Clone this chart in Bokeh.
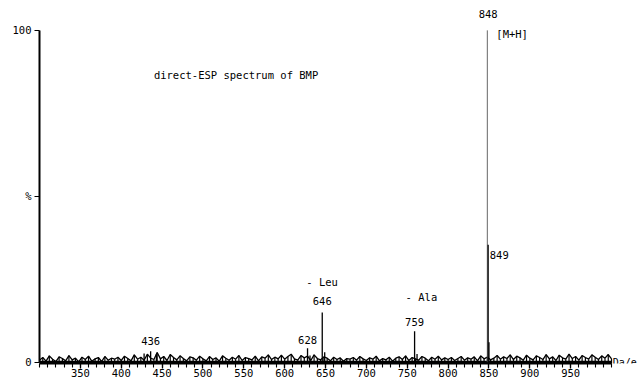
from bokeh.plotting import figure
from bokeh.models import Range1d, FixedTicker, Label, ColumnDataSource
from bokeh.embed import file_html
from bokeh.resources import INLINE

# ---- data ----
peak_mz = [428, 436, 443, 628, 631, 646, 649, 759, 762, 848, 849, 850]
peak_int = [2.6, 3.3, 2.4, 4.2, 2.0, 15.0, 3.0, 9.3, 2.5, 100.0, 35.4, 6.0]

# baseline noise, one value every 4 Da from 300 to 1000
noise_int = [
    0.6, 1.4, 0.3, 1.9, 0.9, 0.2, 1.6, 1.1, 0.4, 2.0, 0.7, 1.2, 0.1, 1.5, 0.8, 1.8, 0.3, 1.0, 1.4, 0.2, 1.7, 0.6, 1.2, 0.9, 1.5,
    0.5, 1.8, 1.1, 0.4, 2.2, 0.9, 1.5, 0.6, 2.4, 1.2, 0.8, 2.9, 1.0, 1.7, 0.5, 2.3, 1.4, 0.7, 1.9, 1.1, 0.4, 1.6, 1.3, 0.6, 1.8,
    1.0, 0.4, 1.7, 0.8, 1.3, 0.3, 1.9, 1.2, 0.6, 1.5, 0.9, 2.0, 0.5, 1.4, 1.1, 0.7, 1.8, 0.4, 1.6, 1.2, 2.2, 0.8, 1.5, 1.0, 2.1,
    0.9, 1.7, 2.4, 1.0, 0.6, 2.0, 1.3, 1.8, 0.5, 2.2, 1.1, 0.7, 1.6, 1.2, 0.4, 1.5, 0.8, 1.3, 0.3, 1.1, 0.9, 1.4, 0.6, 1.7, 1.0,
    0.5, 1.3, 0.9, 1.8, 0.4, 1.1, 0.7, 1.5, 0.3, 1.2, 1.6, 0.8, 1.9, 0.5, 1.4, 1.0, 0.6, 1.7, 1.2, 0.4, 1.5, 0.9, 1.8, 0.7, 1.3,
    0.8, 1.4, 0.5, 1.1, 1.7, 0.6, 1.3, 0.9, 1.6, 0.4, 1.9, 1.0, 1.5, 0.7, 1.2, 2.0, 0.9, 1.6, 1.1, 2.2, 0.8, 1.8, 1.3, 0.6, 2.1,
    1.2, 0.7, 1.9, 1.4, 0.8, 2.3, 1.0, 1.6, 0.5, 2.1, 1.3, 0.9, 2.4, 1.1, 1.7, 0.6, 2.0, 1.4, 0.9, 2.2, 1.5, 0.8, 1.9, 1.2, 2.3, 1.0,
]
noise_mz = [300 + 4 * i for i in range(len(noise_int))]

x_ticks = [350, 400, 450, 500, 550, 600, 650, 700, 750, 800, 850, 900, 950]
x_minor = list(range(300, 1001, 10))
y_ticks = [0, 50, 100]
y_tick_labels = {0: "0", 50: "%", 100: "100"}

FONT = "DejaVu Sans Mono"
FS = "10.5px"

p = figure(width=638, height=379, output_backend="svg", toolbar_location=None,
           x_range=Range1d(300, 1033), y_range=Range1d(-0.4, 109.0),
           min_border_left=39, min_border_right=0, min_border_top=0, min_border_bottom=0)
p.outline_line_color = None
p.xgrid.visible = False
p.ygrid.visible = False
p.background_fill_color = "white"

# baseline noise
nsrc = ColumnDataSource(dict(x=noise_mz, y0=[-0.8] * len(noise_int), y1=noise_int))
p.segment(x0="x", y0="y0", x1="x", y1="y1", line_color="black", line_width=1.2, source=nsrc)
p.line(noise_mz, noise_int, line_color="black", line_width=1.3)
p.line([300, 1000], [0, 0], line_color="black", line_width=3)

# peak sticks
colors = ["#666666" if v >= 90 else "black" for v in peak_int]
widths = [1.0 if v >= 90 else 1.3 for v in peak_int]
src = ColumnDataSource(dict(x=peak_mz, y0=[0] * len(peak_mz), y1=peak_int, c=colors, w=widths))
p.segment(x0="x", y0="y0", x1="x", y1="y1", line_color="c", line_width="w", source=src)

# axes
xa = p.xaxis[0]
xa.ticker = FixedTicker(ticks=x_ticks, minor_ticks=x_minor)
xa.bounds = (300, 1000)
xa.axis_line_width = 2
xa.axis_line_color = "black"
xa.major_tick_in = 0
xa.major_tick_out = 5
xa.minor_tick_in = 0
xa.minor_tick_out = 4
xa.major_tick_line_width = 1.3
xa.minor_tick_line_width = 1.1
xa.major_label_standoff = 0
xa.major_label_text_font = FONT
xa.major_label_text_font_size = FS
xa.major_label_text_color = "black"

ya = p.yaxis[0]
ya.ticker = FixedTicker(ticks=y_ticks, minor_ticks=[])
ya.bounds = (0, 100)
ya.axis_line_width = 2
ya.axis_line_color = "black"
ya.major_tick_in = 0
ya.major_tick_out = 5
ya.minor_tick_out = 0
ya.major_label_standoff = 3
ya.major_label_overrides = y_tick_labels
ya.major_label_text_font = FONT
ya.major_label_text_font_size = FS
ya.major_label_text_color = "black"

def lab(x, y, t, align="left", base="middle", fs=FS):
    p.add_layout(Label(x=x, y=y, text=t, text_font=FONT, text_font_size=fs,
                       text_color="black", text_align=align, text_baseline=base))

lab(440, 86.5, "direct-ESP spectrum of BMP")
lab(849, 103.6, "848", "center", "bottom")
lab(859, 99, "[M+H]")
lab(851, 32.4, "849")
lab(626.5, 24.3, "- Leu")
lab(646, 18.3, "646", "center")
lab(628, 6.6, "628", "center")
lab(748, 19.5, "- Ala")
lab(759, 12.0, "759", "center")
lab(436, 6.3, "436", "center")
lab(1001.5, 0, "Da/e", fs="10px")

open("out.html", "w").write(file_html(p, INLINE))
